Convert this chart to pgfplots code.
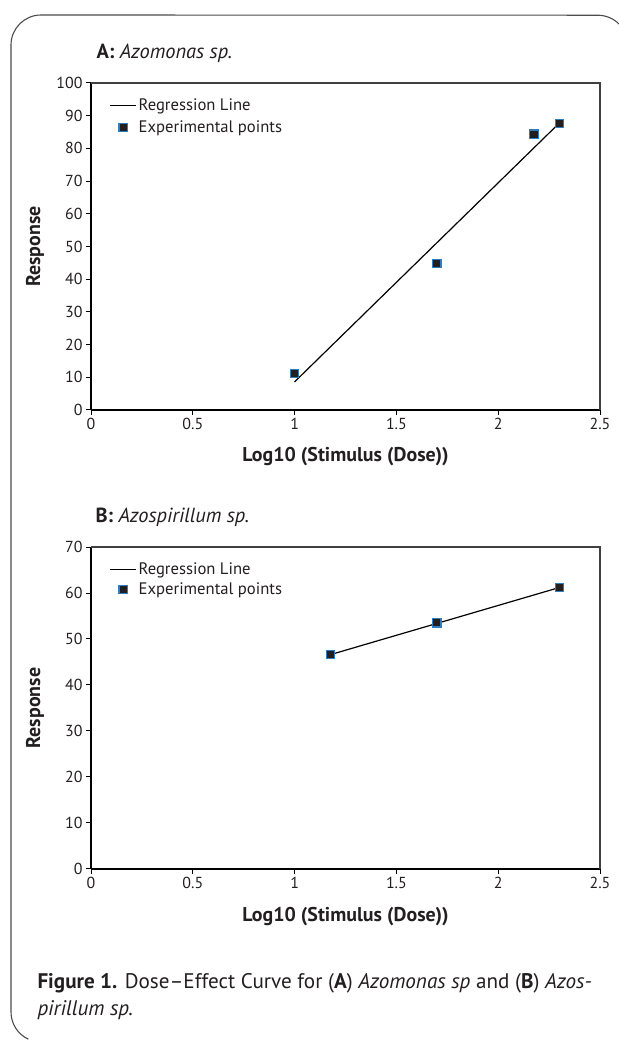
\documentclass[border=0pt]{standalone}
\usepackage{fontspec}
\setmainfont{PT Sans}
\usepackage{pgfplots}
\pgfplotsset{compat=1.18}
\definecolor{ptEdge}{RGB}{45,125,195}
\definecolor{ptFill}{RGB}{35,31,32}
\definecolor{txt}{RGB}{35,31,32}

\pgfplotsset{
  doseaxis/.style={
    scale only axis, width=509bp,
    axis lines=left,
    axis line style={line width=1.6bp, black, -},
    xmin=0, xmax=2.5,
    xtick={0,0.5,1,1.5,2,2.5},
    tick align=outside, major tick length=5bp,
    tick style={black, line width=1bp},
    ticklabel style={font=\fontsize{16}{19}\selectfont, text=txt},
    /pgf/number format/assume math mode=true,
    xticklabel style={/pgf/number format/fixed},
    xlabel={\textbf{Log10 (Stimulus (Dose))}},
    ylabel={\textbf{Response}},
    label style={font=\fontsize{20}{23}\selectfont, text=txt},
    legend style={at={(axis description cs:0.03,0.965)}, anchor=north west,
                  draw=none, fill=none, font=\fontsize{16.7}{19}\selectfont,
                  row sep=5bp, nodes={inner sep=2bp}, text=txt},
    legend cell align=left,
    clip=false,
  },
  regline/.style={black, line width=1.2bp, no marks,
    legend image code/.code={\draw[##1] (0bp,0bp) -- (26bp,0bp);}},
  exppts/.style={only marks, mark=square*, mark size=4.2bp,
    mark options={fill=ptFill, draw=ptEdge, line width=1.3bp},
    legend image code/.code={\draw[##1] plot coordinates {(13bp,0bp)};}},
}

\begin{document}
\begin{tikzpicture}
\path[use as bounding box] (0bp,0bp) rectangle (619bp,1042bp);

%% rounded panel frame, titles and caption
\begin{scope}[x=1bp, y=1bp]
\draw[line width=1.1bp, black!70]
  (619,1018) arc[start angle=45, end angle=90, radius=30]
  -- (41,1027) arc[start angle=90, end angle=180, radius=30]
  -- (11,30) arc[start angle=180, end angle=245, radius=30];

\node[anchor=base west, font=\fontsize{20.5}{23}\selectfont, text=txt]
  at (93,983) {\textbf{A:} \textit{Azomonas sp.}};
\node[anchor=base west, font=\fontsize{20.5}{23}\selectfont, text=txt]
  at (92,519) {\textbf{B:} \textit{Azospirillum sp.}};

\node[anchor=base west, font=\fontsize{21.2}{25}\selectfont, text=txt] at (34,54)
  {\textbf{Figure 1.} Dose–Effect Curve for (\textbf{A}) \textit{Azomonas sp} and (\textbf{B}) \textit{Azos-}};
\node[anchor=base west, font=\fontsize{21.2}{25}\selectfont, text=txt] at (34,27)
  {\textit{pirillum sp.}};
\end{scope}

%% A: Azomonas
\begin{axis}[doseaxis, height=327bp, at={(91bp,632bp)}, anchor=south west,
  ymin=0, ymax=100, ytick={0,10,...,100},
  xlabel style={at={(axis description cs:0.5,-0.159)}, anchor=base},
  ylabel style={at={(axis description cs:-0.11,0.5)}, anchor=center},
]
\draw[line width=1.2bp, black!75] (rel axis cs:0,1) -- (rel axis cs:1,1) -- (rel axis cs:1,0);
\addplot[regline] coordinates {(1,8.6) (2.301,87.8)};
\addlegendentry{Regression Line}
\addplot[exppts] coordinates {(1,11.2) (1.699,44.8) (2.176,84.3) (2.301,87.6)};
\addlegendentry{Experimental points}
\end{axis}

%% B: Azospirillum
\begin{axis}[doseaxis, height=322bp, at={(91bp,173bp)}, anchor=south west,
  ymin=0, ymax=70, ytick={0,10,...,70},
  legend style={row sep=3bp},
  xlabel style={at={(axis description cs:0.5,-0.1615)}, anchor=base},
  ylabel style={at={(axis description cs:-0.11,0.5)}, anchor=center},
]
\draw[line width=1.2bp, black!75] (rel axis cs:0,1) -- (rel axis cs:1,1) -- (rel axis cs:1,0);
\addplot[regline] coordinates {(1.176,46.6) (2.301,61.2)};
\addlegendentry{Regression Line}
\addplot[exppts] coordinates {(1.176,46.6) (1.699,53.5) (2.301,61.2)};
\addlegendentry{Experimental points}
\end{axis}
\end{tikzpicture}
\end{document}
